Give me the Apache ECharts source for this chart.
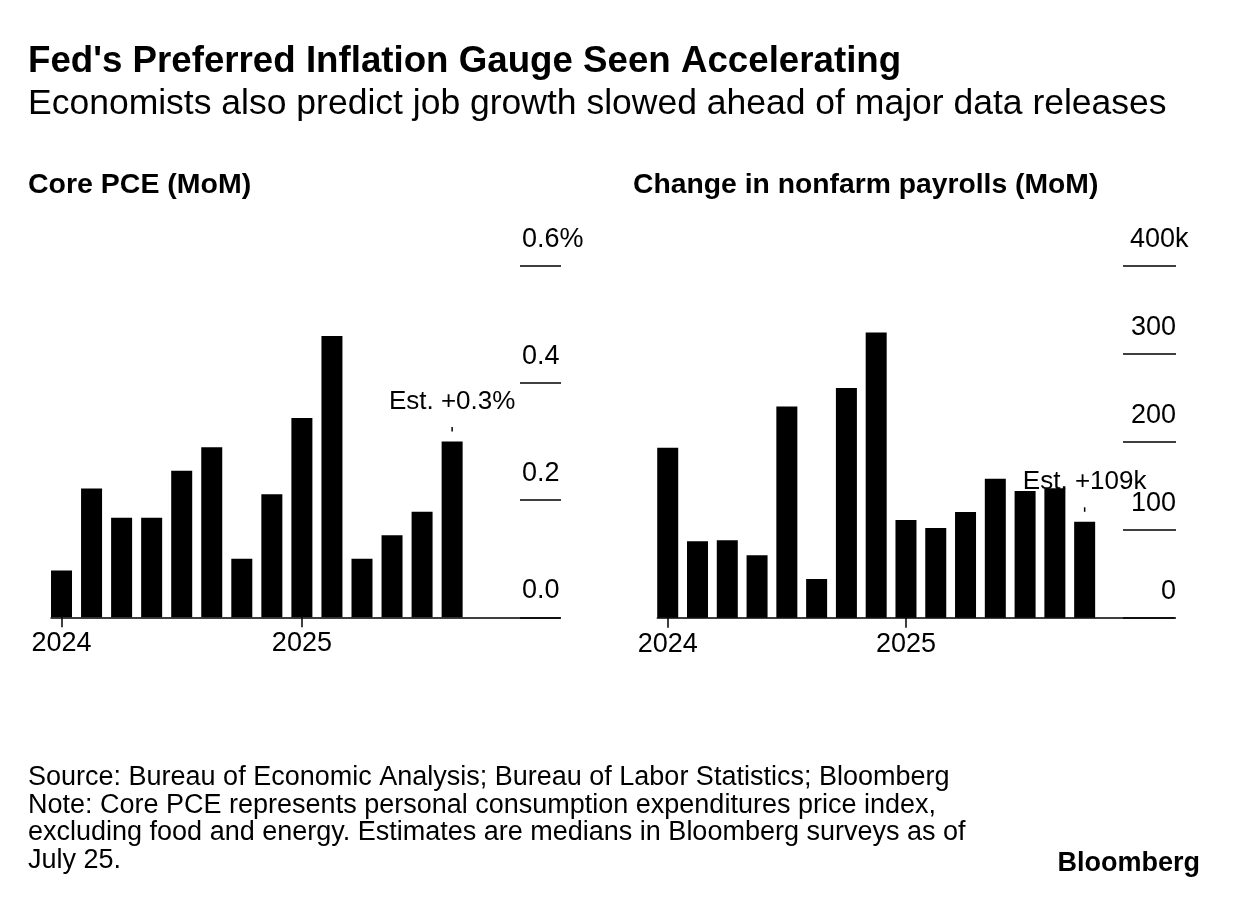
<!DOCTYPE html>
<html><head><meta charset="utf-8">
<script src="https://cdn.jsdelivr.net/npm/echarts@6/dist/echarts.min.js"></script>
<style>html,body{margin:0;padding:0;background:#fff}#c{width:1240px;height:908px}</style>
</head><body><div id="c"></div>
<script>
// ---- data ----
const months = ['May 2024','Jun 2024','Jul 2024','Aug 2024','Sep 2024','Oct 2024','Nov 2024','Dec 2024',
  'Jan 2025','Feb 2025','Mar 2025','Apr 2025','May 2025','Jun 2025','Jul 2025'];
const pceValues = [0.08, 0.22, 0.17, 0.17, 0.25, 0.29, 0.10, 0.21, 0.34, 0.48, 0.10, 0.14, 0.18, 0.30];
const payrollValues = [193, 87, 88, 71, 240, 44, 261, 324, 111, 102, 120, 158, 144, 147, 109];
const pceTicks = [0, 0.2, 0.4, 0.6];
const payrollTicks = [0, 100, 200, 300, 400];
const yearTickIndex = [0, 8];
const yearTickLabels = ['2024', '2025'];
const pceEstimateLabel = 'Est. +0.3%';
const payrollEstimateLabel = 'Est. +109k';

const FONT = '"Liberation Sans", Arial, Helvetica, sans-serif';
const BLACK = '#000';
const TICK_FS = 27;

function estLabel(text) {
  return {
    show: true, position: 'top', distance: 10,
    formatter: '{t|' + text + '}\n{l|}',
    rich: {
      t: { fontSize: 26, fontFamily: FONT, color: BLACK, lineHeight: 51 },
      l: { width: 1.5, height: 4.5, backgroundColor: BLACK }
    }
  };
}

function barData(values, estText) {
  return values.map((v, i) => {
    if (i === values.length - 1) return { value: [i, v], label: estLabel(estText) };
    return [i, v];
  });
}

const yearFormatter = v => {
  const k = yearTickIndex.indexOf(Math.round(v));
  return k >= 0 ? yearTickLabels[k] : '';
};

const chart = echarts.init(document.getElementById('c'), null, { renderer: 'canvas' });
chart.setOption({
  animation: false,
  backgroundColor: '#fff',
  title: [
    { text: "Fed's Preferred Inflation Gauge Seen Accelerating", left: 28, top: 43.5, padding: 0,
      textStyle: { fontSize: 36.7, fontWeight: 'bold', color: BLACK, fontFamily: FONT } },
    { text: 'Economists also predict job growth slowed ahead of major data releases', left: 28, top: 86, padding: 0,
      textStyle: { fontSize: 35.5, fontWeight: 'normal', color: BLACK, fontFamily: FONT } },
    { text: 'Core PCE (MoM)', left: 28, top: 171, padding: 0,
      textStyle: { fontSize: 28.5, fontWeight: 'bold', color: BLACK, fontFamily: FONT } },
    { text: 'Change in nonfarm payrolls (MoM)', left: 633, top: 171, padding: 0,
      textStyle: { fontSize: 28.3, fontWeight: 'bold', color: BLACK, fontFamily: FONT } },
    { text: 'Source: Bureau of Economic Analysis; Bureau of Labor Statistics; Bloomberg\nNote: Core PCE represents personal consumption expenditures price index,\nexcluding food and energy. Estimates are medians in Bloomberg surveys as of\nJuly 25.',
      left: 28, top: 763.5, padding: 0,
      textStyle: { fontSize: 27, lineHeight: 27.8, fontWeight: 'normal', color: BLACK, fontFamily: FONT } },
    { text: 'Bloomberg', right: 40, top: 850, padding: 0,
      textStyle: { fontSize: 27, fontWeight: 'bold', color: BLACK, fontFamily: FONT } }
  ],
  grid: [
    { left: 51, top: 265.7, width: 509, height: 351.6 },
    { left: 520, top: 265.7, width: 41, height: 351.6 },
    { left: 657.3, top: 265.7, width: 516.7, height: 352 },
    { left: 1123, top: 265.7, width: 53, height: 352 }
  ],
  xAxis: [
    { gridIndex: 0, type: 'value', min: -0.35, max: 16.59,
      splitLine: { show: false },
      axisLine: { show: true, lineStyle: { color: BLACK, width: 1.5 } },
      axisTick: { show: true, customValues: yearTickIndex, length: 10, lineStyle: { color: BLACK, width: 1.5 } },
      axisLabel: { customValues: yearTickIndex, formatter: yearFormatter, fontSize: TICK_FS, margin: 13,
        color: BLACK, fontFamily: FONT } },
    { gridIndex: 1, type: 'value', min: 0, max: 1, show: false },
    { gridIndex: 2, type: 'value', min: -0.35, max: 17.0,
      splitLine: { show: false },
      axisLine: { show: true, lineStyle: { color: BLACK, width: 1.5 } },
      axisTick: { show: true, customValues: yearTickIndex, length: 10, lineStyle: { color: BLACK, width: 1.5 } },
      axisLabel: { customValues: yearTickIndex, formatter: yearFormatter, fontSize: TICK_FS, margin: 13,
        color: BLACK, fontFamily: FONT } },
    { gridIndex: 3, type: 'value', min: 0, max: 1, show: false }
  ],
  yAxis: [
    { gridIndex: 0, type: 'value', min: 0, max: pceTicks[pceTicks.length - 1], show: false },
    { gridIndex: 1, type: 'value', min: 0, max: pceTicks[pceTicks.length - 1], interval: 0.2, position: 'left',
      axisLine: { show: false }, axisTick: { show: false },
      splitLine: { show: true, lineStyle: { color: BLACK, width: 1.5 } },
      axisLabel: { inside: true, margin: 2, align: 'left', verticalAlign: 'bottom', lineHeight: 53,
        fontSize: TICK_FS, color: BLACK, fontFamily: FONT,
        formatter: v => (v > 0.59 ? '0.6%' : v.toFixed(1)) } },
    { gridIndex: 2, type: 'value', min: 0, max: payrollTicks[payrollTicks.length - 1], show: false },
    { gridIndex: 3, type: 'value', min: 0, max: payrollTicks[payrollTicks.length - 1], interval: 100, position: 'right',
      axisLine: { show: false }, axisTick: { show: false },
      splitLine: { show: true, lineStyle: { color: BLACK, width: 1.5 } },
      axisLabel: { inside: true, margin: 0, align: 'right', verticalAlign: 'bottom', lineHeight: 53,
        fontSize: TICK_FS, color: BLACK, fontFamily: FONT,
        formatter: v => (v === 400 ? '{n|400}{k|k}' : '{n|' + v + '}'),
        rich: {
          n: { align: 'left', fontSize: TICK_FS, lineHeight: 53, fontFamily: FONT, color: BLACK },
          k: { align: 'left', width: 1, fontSize: TICK_FS, lineHeight: 53, fontFamily: FONT, color: BLACK }
        } } }
  ],
  series: [
    { type: 'bar', xAxisIndex: 0, yAxisIndex: 0, barWidth: 21, silent: true,
      itemStyle: { color: BLACK }, data: barData(pceValues, pceEstimateLabel) },
    { type: 'bar', xAxisIndex: 2, yAxisIndex: 2, barWidth: 21, silent: true,
      itemStyle: { color: BLACK }, data: barData(payrollValues, payrollEstimateLabel) }
  ]
});
</script>
</body></html>
